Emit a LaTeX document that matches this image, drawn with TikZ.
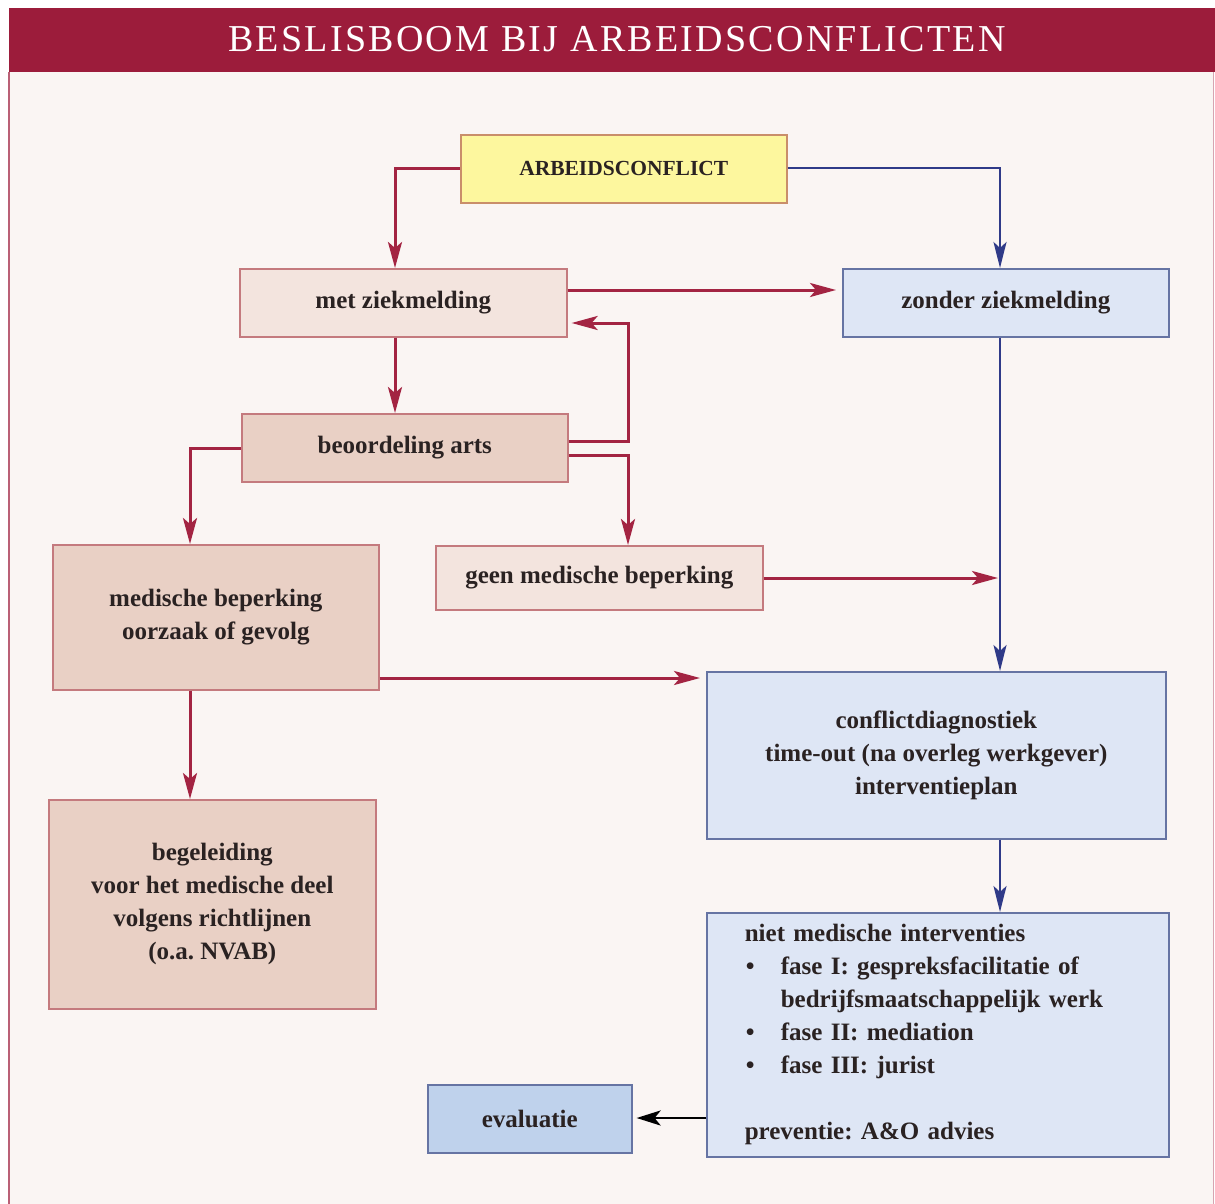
\documentclass[tikz,border=0pt]{standalone}
\usepackage{fontspec}
\setmainfont{Liberation Serif}
\usetikzlibrary{arrows.meta}
\definecolor{crimson}{HTML}{9C1C3B}
\definecolor{redline}{HTML}{A32442}
\definecolor{blueline}{HTML}{2F3A88}
\definecolor{bgpink}{HTML}{FAF5F3}
\definecolor{yellowfill}{HTML}{FDF79E}
\definecolor{yellowdraw}{HTML}{C98E6A}
\definecolor{pinklight}{HTML}{F3E4DE}
\definecolor{pinkdark}{HTML}{E9D0C5}
\definecolor{pinkdraw}{HTML}{C47A7E}
\definecolor{bluelight}{HTML}{DEE6F5}
\definecolor{bluedraw}{HTML}{6674A3}
\definecolor{bluemid}{HTML}{BFD2EC}
\definecolor{txt}{HTML}{2A2222}
\frenchspacing
\begin{document}
\begin{tikzpicture}[x=1pt,y=-1pt,
  box/.style={rectangle, inner sep=0pt, line width=1.6pt, align=center, text=txt,
    font=\fontsize{25}{33}\selectfont\bfseries, anchor=north west},
  pinkL/.style={box, fill=pinklight, draw=pinkdraw},
  pinkD/.style={box, fill=pinkdark, draw=pinkdraw},
  blueL/.style={box, fill=bluelight, draw=bluedraw},
  redarrow/.style={draw=redline, line width=3pt, -{Stealth[length=26pt,width=14pt,inset=6pt]}},
  bluearrow/.style={draw=blueline, line width=2.6pt, -{Stealth[length=26pt,width=13pt,inset=6pt]}},
  blackarrow/.style={draw=black, line width=2.8pt, -{Stealth[length=24pt,width=15pt,inset=6pt]}}
]
\useasboundingbox (0,0) rectangle (1215,1204);
% background and frame
\fill[white] (0,0) rectangle (1215,1204);
\fill[bgpink] (9,8) rectangle (1213,1204);
\fill[crimson] (9,8) rectangle (1215,72);
\draw[crimson!70!white, line width=2.2pt] (9,72) -- (9,1204);
\draw[crimson!40!white, line width=1pt] (1213,72) -- (1213,1204);
\node[text=white, font=\fontsize{38}{40}\selectfont\addfontfeature{LetterSpace=6}] (title) at (617,39) {BESLISBOOM BIJ ARBEIDSCONFLICTEN};

% boxes
\node[box, fill=yellowfill, draw=yellowdraw, minimum width=326pt, minimum height=68pt,
  font=\fontsize{21.5}{22}\selectfont\bfseries] (ac) at (460,134) {ARBEIDSCONFLICT};
\node[pinkL, minimum width=327pt, minimum height=68pt] (met) at (239,268) {met ziekmelding};
\node[blueL, minimum width=326pt, minimum height=68pt] (zonder) at (842,268) {zonder ziekmelding};
\node[pinkD, minimum width=326pt, minimum height=68pt] (arts) at (241,413) {beoordeling arts};
\node[pinkD, minimum width=326pt, minimum height=145pt] (med) at (52,544) {medische beperking\\oorzaak of gevolg};
\node[pinkL, minimum width=327pt, minimum height=64pt] (geen) at (435,545) {geen medische beperking};
\node[blueL, minimum width=459pt, minimum height=167pt] (diag) at (706,671) {conflictdiagnostiek\\time-out (na overleg werkgever)\\interventieplan};
\node[pinkD, minimum width=327pt, minimum height=209pt] (beg) at (48,799) {begeleiding\\voor het medische deel\\volgens richtlijnen\\(o.a. NVAB)};
\node[blueL, minimum width=462pt, minimum height=244pt, align=left, text width=386pt, inner xsep=38pt] (niet) at (706,912)
  {niet medische interventies\\
   \makebox[36pt][l]{\hspace*{1pt}\textbullet}fase I: gespreksfacilitatie of\\
   \hspace*{36pt}bedrijfsmaatschappelijk werk\\
   \makebox[36pt][l]{\hspace*{1pt}\textbullet}fase II: mediation\\
   \makebox[36pt][l]{\hspace*{1pt}\textbullet}fase III: jurist\\[33pt]
   preventie: A\&O advies};
\node[box, fill=bluemid, draw=bluedraw, minimum width=204pt, minimum height=68pt] (eval) at (427,1084) {evaluatie};

% connectors
\coordinate (j1) at (1000,578);
\draw[redarrow] (ac.west |- 0,168) -- (395,168) -- (met.north -| 395,0);
\draw[bluearrow] (ac.east |- 0,168) -- (1000,168) -- (zonder.north -| 1000,0);
\draw[redarrow] (met.east |- 0,290) -- ([xshift=-6pt]zonder.west |- 0,290);
\draw[redarrow] (met.south -| 395,0) -- (arts.north -| 395,0);
\draw[redarrow] (arts.east |- 0,441) -- (628,441) -- (628,323) -- ([xshift=4pt]met.east |- 0,323);
\draw[redarrow] (arts.east |- 0,455) -- (628,455) -- (geen.north -| 628,0);
\draw[redarrow] (arts.west |- 0,448) -- (190,448) -- (med.north -| 190,0);
\draw[bluearrow] (zonder.south -| 1000,0) -- (diag.north -| 1000,0);
\draw[redarrow] (geen.east |- 0,578) -- ([xshift=-2pt]j1);
\draw[redarrow] (med.east |- 0,678) -- ([xshift=-6pt]diag.west |- 0,678);
\draw[redarrow] (med.south -| 190,0) -- (beg.north -| 190,0);
\draw[bluearrow] (diag.south -| 1000,0) -- (niet.north -| 1000,0);
\draw[blackarrow] (niet.west |- 0,1118) -- ([xshift=4pt]eval.east |- 0,1118);
\end{tikzpicture}
\end{document}
